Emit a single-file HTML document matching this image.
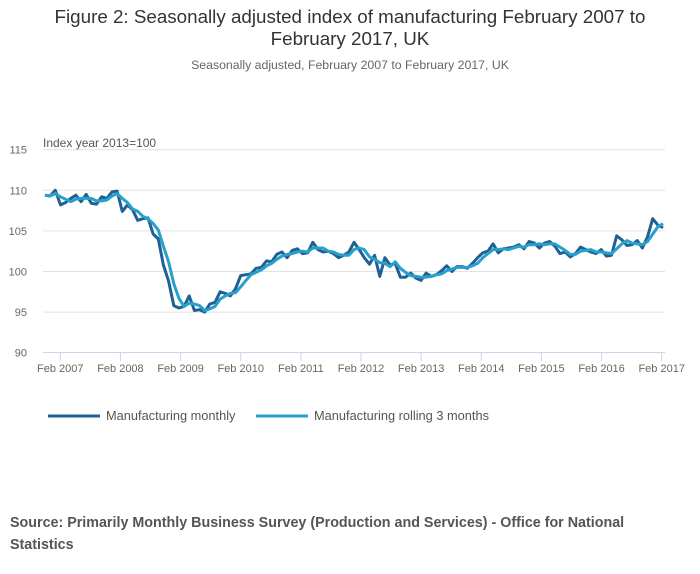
<!DOCTYPE html>
<html><head><meta charset="utf-8"><style>
body{margin:0;background:#fff;font-family:"Liberation Sans",sans-serif;}
#wrap{position:relative;width:700px;height:574px;overflow:hidden;}
</style></head><body>
<div id="wrap">
<svg id="chart" width="700" height="574">
<text x="350" y="23" text-anchor="middle" font-size="18.8" fill="#333">Figure 2: Seasonally adjusted index of manufacturing February 2007 to</text>
<text x="350" y="45" text-anchor="middle" font-size="18.8" fill="#333">February 2017, UK</text>
<text x="350" y="69" text-anchor="middle" font-size="12.3" fill="#666">Seasonally adjusted, February 2007 to February 2017, UK</text>
<text x="43" y="147" font-size="12" fill="#555">Index year 2013=100</text>
<g id="grid"></g><g id="xaxis"></g><g id="series"></g>
<g>
<line x1="48" y1="416" x2="100" y2="416" stroke="#206095" stroke-width="3"/>
<text x="106" y="420" font-size="12.8" fill="#555">Manufacturing monthly</text>
<line x1="256" y1="416" x2="308" y2="416" stroke="#27a0cc" stroke-width="3"/>
<text x="314" y="420" font-size="12.8" fill="#555">Manufacturing rolling 3 months</text>
</g>
<text x="10" y="527" font-size="14.3" font-weight="bold" fill="#555">Source: Primarily Monthly Business Survey (Production and Services) - Office for National</text>
<text x="10" y="549" font-size="14.3" font-weight="bold" fill="#555">Statistics</text>
</svg>
</div>
<script>
const yTicks=[90,95,100,105,110,115];
const xTickLabels=["Feb 2007","Feb 2008","Feb 2009","Feb 2010","Feb 2011","Feb 2012","Feb 2013","Feb 2014","Feb 2015","Feb 2016","Feb 2017"];
const monthly=[109.4,109.3,110.0,108.2,108.5,109.0,109.4,108.6,109.5,108.4,108.3,109.2,109.0,109.8,109.9,107.4,108.2,107.6,106.3,106.5,106.6,104.6,104.0,100.8,98.8,95.8,95.5,95.7,97.0,95.2,95.3,95.0,96.0,96.2,97.5,97.3,97.0,97.9,99.5,99.6,99.7,100.4,100.5,101.3,101.2,102.1,102.4,101.7,102.6,102.8,102.2,102.3,103.6,102.7,102.4,102.5,102.2,101.7,102.0,102.4,103.6,102.7,101.7,100.9,102.0,99.4,101.7,100.8,101.0,99.3,99.3,99.8,99.2,98.9,99.8,99.4,99.6,100.1,100.7,100.0,100.6,100.6,100.4,101.0,101.7,102.3,102.5,103.4,102.3,102.8,102.9,103.0,103.3,102.8,103.7,103.5,102.9,103.5,103.7,103.1,102.2,102.4,101.8,102.2,103.0,102.7,102.4,102.2,102.7,101.9,102.0,104.4,103.9,103.2,103.3,103.8,102.9,104.3,106.5,105.7,105.4];
const rolling=[109.4,109.3,109.6,109.2,108.9,108.6,108.9,109.0,109.0,109.0,108.7,108.7,108.8,109.3,109.6,109.0,108.5,107.7,107.4,106.8,106.5,105.9,105.1,103.1,101.2,98.5,96.7,95.7,96.1,96.0,95.8,95.2,95.4,95.7,96.6,97.0,97.3,97.4,98.1,98.9,99.6,99.9,100.2,100.7,101.0,101.5,101.9,102.1,102.2,102.4,102.5,102.4,102.9,102.9,102.9,102.5,102.4,102.1,102.0,102.0,102.7,102.9,102.7,101.8,101.5,101.1,101.0,100.6,101.2,100.4,99.9,99.5,99.4,99.3,99.3,99.4,99.6,99.7,100.1,100.3,100.5,100.5,100.5,100.7,101.0,101.7,102.2,102.7,102.7,102.8,102.7,102.9,103.1,103.0,103.3,103.3,103.4,103.3,103.4,103.4,103.0,102.6,102.1,102.1,102.5,102.6,102.7,102.4,102.4,102.3,102.2,102.8,103.4,103.8,103.5,103.4,103.3,103.7,104.6,105.5,105.9];
const NS="http://www.w3.org/2000/svg";
function yS(v){return 352.7-(v-90)*8.12;}
function xS(i,n){return 45+i*(618/(n-1));}
function xT(k){return 60.3+k*60.14;}
function mk(tag,a){const e=document.createElementNS(NS,tag);for(const k in a)e.setAttribute(k,a[k]);return e;}
const grid=document.getElementById('grid');
yTicks.forEach(t=>{
  if(t>90){const l=mk('line',{x1:43,x2:665,y1:yS(t),y2:yS(t),stroke:'#e2e2e2','stroke-width':1});
  
  
  grid.appendChild(l);}
  const tx=mk('text',{x:27,y:yS(t)+4,'text-anchor':'end','font-size':11,fill:'#666'});
  tx.textContent=t;
  
  
  grid.appendChild(tx);
});
const xa=document.getElementById('xaxis');
const al=mk('line',{x1:43,x2:665,y1:352.5,y2:352.5,stroke:'#c7d6e8','stroke-width':1});


xa.appendChild(al);
xTickLabels.forEach((s,k)=>{
  const t=mk('line',{x1:xT(k),x2:xT(k),y1:352,y2:361,stroke:'#c7d6e8'});
  
  
  xa.appendChild(t);
  const tx=mk('text',{x:xT(k),y:372,'text-anchor':'middle','font-size':11,fill:'#666'});
  tx.textContent=s;
  
  
  xa.appendChild(tx);
});
const sg=document.getElementById('series');
function line(arr,color,name){
  const d=arr.map((v,i)=>(i?'L':'M')+xS(i,arr.length).toFixed(1)+' '+yS(v).toFixed(1)).join(' ');
  const p=mk('path',{d:d,fill:'none',stroke:color,'stroke-width':3,'stroke-linejoin':'round'});
  
  
  sg.appendChild(p);
}
line(monthly,'#206095','monthly-line');
line(rolling,'#27a0cc','rolling-3-month-line');
</script>
</body></html>
